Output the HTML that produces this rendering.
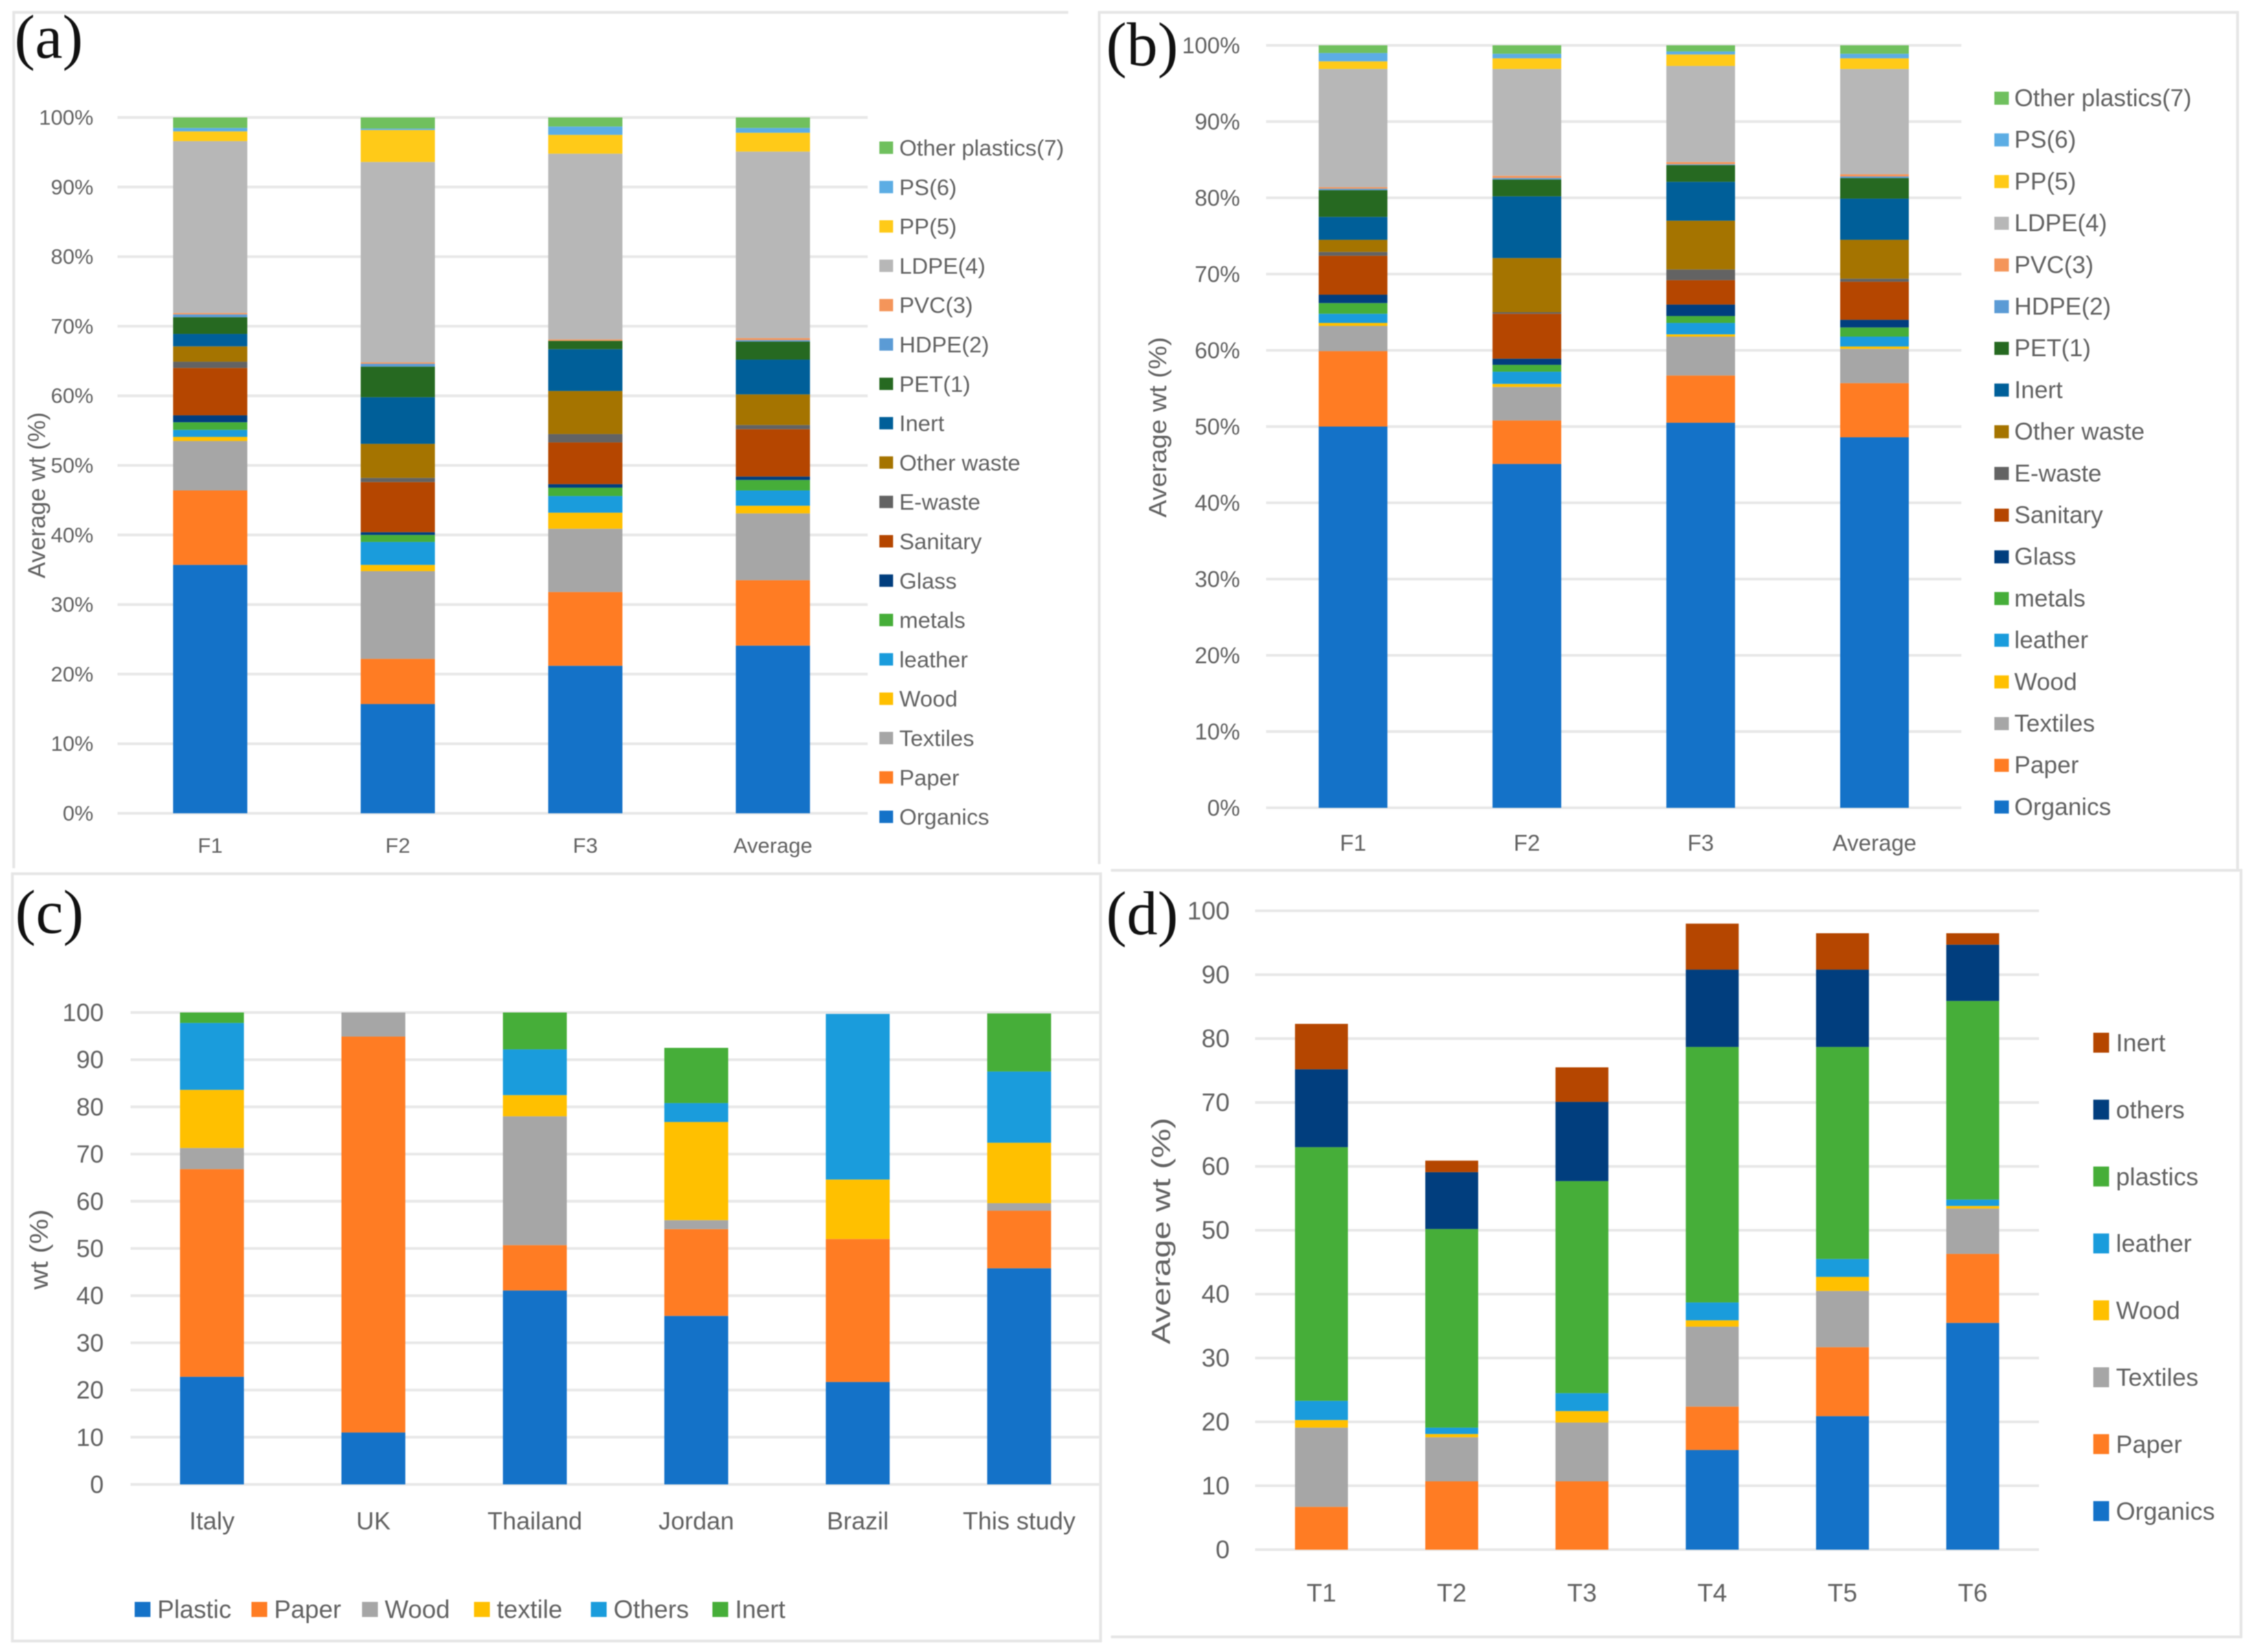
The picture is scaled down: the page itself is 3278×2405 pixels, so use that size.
<!DOCTYPE html>
<html lang="en">
<head>
<meta charset="utf-8">
<title>Average waste composition stacked bar charts</title>
<style>
html,body{margin:0;padding:0;background:#fff;}
body{width:3278px;height:2405px;overflow:hidden;}
svg{display:block;filter:blur(0.9px);}
text{font-family:"Liberation Sans",sans-serif;fill:#626262;}
.panel-letter{font-family:"Liberation Serif",serif;font-size:90px;fill:#111;}
</style>
</head>
<body>
<svg id="figure" xmlns="http://www.w3.org/2000/svg" width="3278" height="2405" viewBox="0 0 3278 2405">
  <rect x="0" y="0" width="3278" height="2405" fill="#ffffff"/>
  <g fill="none" stroke="#e6e6e6" stroke-width="4">
    <path d="M1555 18H20V1264"/>
    <path d="M1600 1258V18H3257V1267"/>
    <rect x="18" y="1272" width="1584" height="1117"/>
    <path d="M1617 1267H3262V2383H1617"/>
  </g>
  <text class="panel-letter" x="21" y="84">(a)</text>
  <text class="panel-letter" x="1610" y="95">(b)</text>
  <text class="panel-letter" x="22" y="1358">(c)</text>
  <text class="panel-letter" x="1610" y="1360">(d)</text>
</svg>
<script>
// ---- data ----
const tickValues = [0,10,20,30,40,50,60,70,80,90,100];
const tickLabelsPct = ['0%','10%','20%','30%','40%','50%','60%','70%','80%','90%','100%'];
const tickLabelsNum = ['0','10','20','30','40','50','60','70','80','90','100'];

const seriesFull = ['Organics','Paper','Textiles','Wood','leather','metals','Glass','Sanitary','E-waste','Other waste','Inert','PET(1)','HDPE(2)','PVC(3)','LDPE(4)','PP(5)','PS(6)','Other plastics(7)'];
const seriesFullColors = ['#1472c8','#ff7c23','#a6a6a6','#ffc000','#1a9cdc','#46ae39','#013e7e','#b54600','#636363','#a57400','#005f99','#266921','#5b9bd5','#f4955a','#b7b7b7','#ffca18','#5cade4','#70c05e'];

const categoriesA = ['F1','F2','F3','Average'];
const valuesAF1 = [35.7,10.7,7.1,0.6,1.0,1.1,1.0,6.8,0.9,2.2,1.8,2.4,0.4,0.2,24.7,1.4,0.5,1.5];
const valuesAF2 = [15.7,6.5,12.6,0.9,3.3,1.0,0.4,7.2,0.6,4.9,6.7,4.4,0.4,0.2,28.8,4.6,0.2,1.6];
const valuesAF3 = [21.2,10.6,9.1,2.3,2.4,1.2,0.5,6.0,1.2,6.2,6.0,1.2,0,0.2,26.7,2.7,1.2,1.3];
const valuesAAvg = [24.1,9.4,9.6,1.1,2.2,1.5,0.5,6.8,0.6,4.4,5.0,2.6,0.2,0.3,26.8,2.7,0.7,1.5];

const categoriesB = ['F1','F2','F3','Average'];
const valuesBF1 = [50,9.9,3.3,0.4,1.2,1.4,1.1,5.1,0.5,1.6,3.0,3.5,0.2,0.2,15.5,1.0,1.1,1.0];
const valuesBF2 = [45.1,5.7,4.4,0.4,1.6,0.9,0.8,5.9,0.2,7.1,8.1,2.2,0.2,0.3,14,1.4,0.6,1.1];
const valuesBF3 = [50.5,6.2,5.1,0.3,1.5,0.9,1.5,3.2,1.4,6.4,5.1,2.2,0.1,0.3,12.6,1.5,0.4,0.8];
const valuesBAvg = [48.6,7.1,4.5,0.3,1.3,1.2,1,5,0.4,5.1,5.4,2.7,0.2,0.3,13.8,1.4,0.6,1.1];

const seriesC = ['Plastic','Paper','Wood','textile','Others','Inert'];
const seriesCColors = ['#1472c8','#ff7c23','#a6a6a6','#ffc000','#1a9cdc','#46ae39'];
const categoriesC = ['Italy','UK','Thailand','Jordan','Brazil','This study'];
const valuesCItaly = [22.8,44,4.5,12.3,14.2,2.2];
const valuesCUK = [11,83.9,5.1,0,0,0];
const valuesCThailand = [41.1,9.6,27.3,4.5,9.7,7.8];
const valuesCJordan = [35.7,18.4,1.9,20.8,4,11.7];
const valuesCBrazil = [21.7,30.3,0,12.6,35.1,0];
const valuesCThisStudy = [45.8,12.2,1.6,12.8,15.1,12.3];

const seriesD = ['Organics','Paper','Textiles','Wood','leather','plastics','others','Inert'];
const seriesDColors = ['#1472c8','#ff7c23','#a6a6a6','#ffc000','#1a9cdc','#46ae39','#013e7e','#b54600'];
const categoriesD = ['T1','T2','T3','T4','T5','T6'];
const valuesDT1 = [0,6.7,12.4,1.2,3,39.7,12.2,7.1];
const valuesDT2 = [0,10.7,6.9,0.5,1,31.1,8.9,1.8];
const valuesDT3 = [0,10.7,9.2,1.8,2.8,33.2,12.4,5.4];
const valuesDT4 = [15.6,6.8,12.5,1,2.8,40,12.1,7.2];
const valuesDT5 = [20.9,10.8,8.8,2.2,2.8,33.2,12.1,5.7];
const valuesDT6 = [35.5,10.8,7.1,0.4,1,31.1,8.8,1.8];

// ---- layout (not data) ----
const panels = [
  {id:'a', cats:categoriesA, rows:[valuesAF1,valuesAF2,valuesAF3,valuesAAvg], series:seriesFull, colors:seriesFullColors, ticks:tickLabelsPct,
   y0:1184, y100:171, gridL:171, gridR:1263, cx0:306, step:273, barW:108, tickX:136, tickFont:31, catY:1231, catFont:31,
   title:'Average wt (%)', titleX:54, titleY:721, titleLen:242, titleFont:35,
   legend:{mode:'column', top:215, dy:57.3, swX:1280, swW:20, swH:18, txtX:1309, font:32.7}},
  {id:'b', cats:categoriesB, rows:[valuesBF1,valuesBF2,valuesBF3,valuesBAvg], series:seriesFull, colors:seriesFullColors, ticks:tickLabelsPct,
   y0:1176, y100:66, gridL:1843, gridR:2855, cx0:1969.5, step:253, barW:100, tickX:1805, tickFont:33, catY:1227, catFont:33,
   title:'Average wt (%)', titleX:1685, titleY:622, titleLen:263, titleFont:36,
   legend:{mode:'column', top:143, dy:60.7, swX:2903, swW:21, swH:19, txtX:2932, font:35.2}},
  {id:'c', cats:categoriesC, rows:[valuesCItaly,valuesCUK,valuesCThailand,valuesCJordan,valuesCBrazil,valuesCThisStudy], series:seriesC, colors:seriesCColors, ticks:tickLabelsNum,
   y0:2161, y100:1474, gridL:190, gridR:1601, cx0:308.5, step:235, barW:93, tickX:151, tickFont:36, catY:2214, catFont:36,
   title:'wt (%)', titleX:57, titleY:1819, titleLen:117, titleFont:37,
   legend:{mode:'row', y:2343, slots:[196,366,527,690,860,1037], swW:23, swH:22, gap:10, font:36.6}},
  {id:'d', cats:categoriesD, rows:[valuesDT1,valuesDT2,valuesDT3,valuesDT4,valuesDT5,valuesDT6], series:seriesD, colors:seriesDColors, ticks:tickLabelsNum,
   y0:2256, y100:1326, gridL:1827, gridR:2968, cx0:1923.5, step:189.6, barW:77, tickX:1790, tickFont:37, catY:2319, catFont:37,
   title:'Average wt (%)', titleX:1691, titleY:1792, titleLen:330, titleFont:38,
   legend:{mode:'column', top:1518, dy:97.4, swX:3047, swW:23, swH:29, txtX:3080, font:36, reversed:false}}
];

const NS = 'http://www.w3.org/2000/svg';
const root = document.getElementById('figure');

function mk(tag, parent, attrs){
  const n = document.createElementNS(NS, tag);
  for (const k in attrs) n.setAttribute(k, attrs[k]);
  parent.appendChild(n);
  return n;
}

function drawPanel(p){
  const yOf = v => p.y0 + (p.y100 - p.y0) * v / 100;
  const xOf = i => p.cx0 + p.step * i;

  const g = mk('g', root, {});
  
  

  // gridlines and tick labels
  tickValues.forEach((v, i) => {
    const line = mk('line', g, {x1:p.gridL, x2:p.gridR, y1:yOf(v), y2:yOf(v), stroke:'#e8e8e8', 'stroke-width':4});
    
    
    const t = mk('text', g, {x:p.tickX, y:yOf(v), 'text-anchor':'end', 'dominant-baseline':'central', 'font-size':p.tickFont});
    t.textContent = p.ticks[i];
    
    
  });

  // stacked bars
  p.cats.forEach((cat, ci) => {
    let base = 0;
    p.series.forEach((name, si) => {
      const val = p.rows[ci][si];
      if (val > 0) {
        const top = yOf(base + val), bot = yOf(base);
        const r = mk('rect', g, {x:xOf(ci) - p.barW / 2, y:top, width:p.barW, height:bot - top, fill:p.colors[si]});
        
        
      }
      base += val;
    });
    const c = mk('text', g, {x:xOf(ci), y:p.catY, 'text-anchor':'middle', 'dominant-baseline':'central', 'font-size':p.catFont});
    c.textContent = cat;
    
    
  });

  // axis title
  const title = mk('text', g, {x:p.titleX, y:p.titleY, 'text-anchor':'middle', 'dominant-baseline':'central', 'font-size':p.titleFont,
    textLength:p.titleLen, lengthAdjust:'spacingAndGlyphs', transform:'rotate(-90 ' + p.titleX + ' ' + p.titleY + ')'});
  title.textContent = p.title;
  
  

  // legend
  const L = p.legend;
  const count = p.series.length;
  p.series.forEach((name, si) => {
    let sx, tx, cy;
    if (L.mode === 'column') {
      sx = L.swX;
      tx = L.txtX;
      cy = L.top + L.dy * (count - 1 - si);
    } else {
      sx = L.slots[si];
      tx = sx + L.swW + L.gap;
      cy = L.y;
    }
    const sw = mk('rect', g, {x:sx, y:cy - L.swH / 2, width:L.swW, height:L.swH, fill:p.colors[si]});
    
    
    const lt = mk('text', g, {x:tx, y:cy, 'dominant-baseline':'central', 'font-size':L.font});
    lt.textContent = name;
    
    
  });
}

panels.forEach(drawPanel);
</script>
</body>
</html>
